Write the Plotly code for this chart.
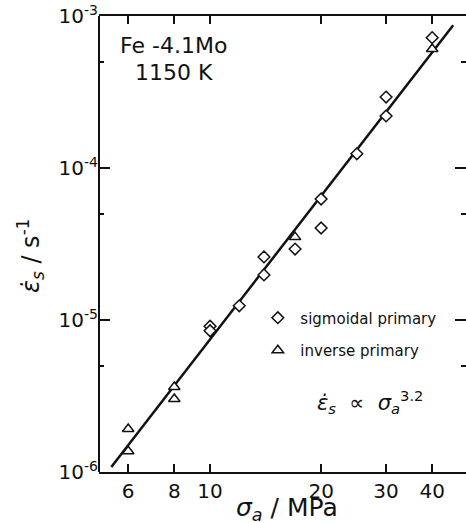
import plotly.graph_objects as go
import math

# --- data ---
sig_x = [40, 30, 30, 25, 20, 20, 17, 14, 14, 12, 10, 10]
sig_y = [7.2e-4, 2.93e-4, 2.2e-4, 1.24e-4, 6.25e-5, 4.03e-5, 2.93e-5, 2.6e-5, 1.98e-5, 1.24e-5, 9.1e-6, 8.5e-6]
inv_x = [40, 17, 8, 8, 6, 6]
inv_y = [6.07e-4, 3.51e-5, 3.62e-6, 3.02e-6, 1.92e-6, 1.37e-6]
fit_x = [5.4, 45.6]
fit_y = [1.08e-6, 8.7e-4]

x_ticks = [6, 8, 10, 20, 30, 40]
x_ticktext = ["6", "8", "10", "20", "30", "40"]
y_major = [1e-6, 1e-5, 1e-4, 1e-3]
y_major_text = ["10<sup>-6</sup>", "10<sup>-5</sup>", "10<sup>-4</sup>", "10<sup>-3</sup>"]
y_minor = [5e-6, 5e-5, 5e-4]

FONT = "DejaVu Sans"
BLACK = "#111"

fig = go.Figure()
fig.add_trace(go.Scatter(x=fit_x, y=fit_y, mode="lines",
                         line=dict(color=BLACK, width=2.5), showlegend=False,
                         hoverinfo="skip"))
fig.add_trace(go.Scatter(x=sig_x, y=sig_y, mode="markers", name="sigmoidal primary",
                         legendgroup="a",
                         marker=dict(symbol="diamond", size=9, color="white",
                                     line=dict(color=BLACK, width=1.5))))
fig.add_trace(go.Scatter(x=inv_x, y=inv_y, mode="markers", name="inverse primary",
                         legendgroup="b",
                         marker=dict(symbol="triangle-up", size=10, color="white",
                                     line=dict(color=BLACK, width=1.5))))

xr = [math.log10(5), math.log10(49.4)]
yr = [-6, -3]

fig.update_layout(
    width=466, height=523,
    margin=dict(l=99, r=0, t=16, b=51),
    paper_bgcolor="white", plot_bgcolor="white",
    font=dict(family=FONT, color=BLACK),
    xaxis=dict(type="log", range=xr, tickmode="array", tickvals=x_ticks, ticktext=x_ticktext,
               ticks="inside", ticklen=8, tickwidth=1.5, tickcolor=BLACK,
               showline=True, linewidth=2, linecolor=BLACK, mirror="ticks",
               showgrid=False, zeroline=False, tickfont=dict(size=20, family=FONT)),
    yaxis=dict(type="log", range=yr, tickmode="array", tickvals=y_major, ticktext=y_major_text,
               ticks="inside", ticklen=11, tickwidth=1.5, tickcolor=BLACK,
               showline=False, mirror="ticks",
               showgrid=False, zeroline=False, tickfont=dict(size=20, family=FONT),
               minor=dict(tickmode="array", tickvals=y_minor, ticks="inside", ticklen=5,
                          tickwidth=1.5, tickcolor=BLACK, showgrid=False)),
    legend=dict(x=0.426, y=0.374, xanchor="left", yanchor="top", bgcolor="rgba(0,0,0,0)",
                font=dict(size=15, family=FONT), tracegroupgap=10, itemwidth=35),
    showlegend=True,
    shapes=[dict(type="line", xref="paper", yref="paper", x0=0, x1=0, y0=0, y1=1,
                 line=dict(color=BLACK, width=2))],
)

ann = [
    dict(text="Fe -4.1Mo", x=0.052, y=0.936, size=22),
    dict(text="1150 K", x=0.0926, y=0.877, size=22),
    dict(text="<i>ε̇<sub>s</sub></i>  ∝  <i>σ<sub>a</sub></i><sup>3.2</sup>", x=0.589, y=0.1535, size=21),
]
for a in ann:
    fig.add_annotation(text=a["text"], x=a["x"], y=a["y"], xref="paper", yref="paper",
                       xanchor="left", yanchor="middle", showarrow=False,
                       font=dict(size=a["size"], family=FONT, color=BLACK))

fig.add_annotation(text="<i>σ<sub>a</sub></i> / MPa", x=0.512, y=-0.082, xref="paper", yref="paper",
                   xanchor="center", yanchor="middle", showarrow=False,
                   font=dict(size=25, family=FONT, color=BLACK))
fig.add_annotation(text="<i>ε̇<sub>s</sub></i> / s<sup>-1</sup>", x=-0.185, y=0.474, xref="paper", yref="paper",
                   xanchor="center", yanchor="middle", showarrow=False, textangle=-90,
                   font=dict(size=24, family=FONT, color=BLACK))

fig.write_html("out.html")
